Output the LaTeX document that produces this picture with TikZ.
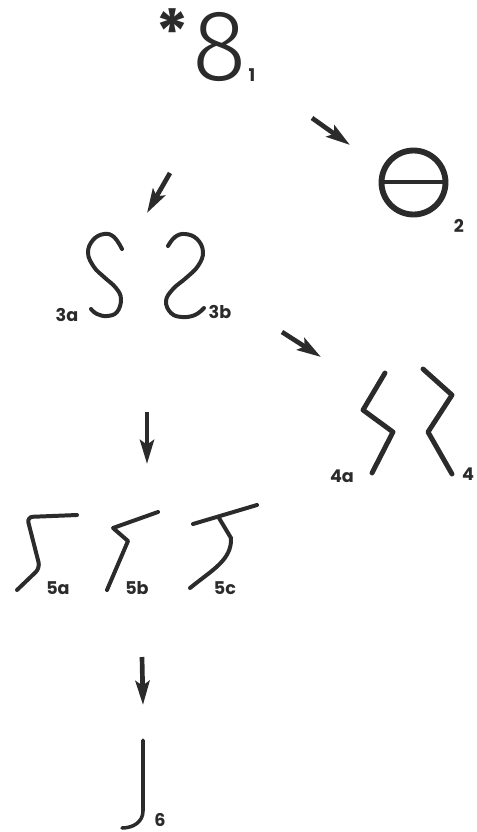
\documentclass[tikz,border=0pt]{standalone}
\usepackage{fontspec}
\setmainfont{Poppins}
\newfontfamily\signfont{Fira Sans Light}
\usetikzlibrary{arrows.meta}
\definecolor{ink}{HTML}{2B2B2B}

\begin{document}
\begin{tikzpicture}[
		x=0.03cm, y=-0.03cm,
		glyph/.style={draw=ink, line width=4.2pt, line cap=round, line join=round},
		thinglyph/.style={glyph, line width=3.4pt},
		arrowline/.style={draw=ink, line width=4pt,
			-{Stealth[length=0.72cm, width=0.42cm, inset=0.14cm]}},
		lbl/.style={text=ink, inner sep=0pt, font=\fontsize{15}{15}\selectfont\bfseries}
		]
		\useasboundingbox (0,0) rectangle (477,832);
		
		% Stage 1
		\node[text=ink, inner sep=0pt, anchor=north, font=\fontsize{54}{54}\selectfont\bfseries] (star) at (172,8) {*};
		\node[text=ink, inner sep=0pt, font=\signfont\fontsize{86}{86}\selectfont] (eight) at (219.5,47) {8};
		\node[lbl] (l1) at (252,75) {1};
		
		% Stage 2
		\draw[glyph, line width=5pt] (413.5,182.5) circle (32);
		\draw[glyph] (382,182) -- (445,182);
		\node[lbl] (l2) at (459,226) {2};
		
		% Stage 3
		\draw[thinglyph] plot[smooth, tension=0.7] coordinates {(122,249) (114,237) (104,234) (93,240) (88,253) (94,267) (104,277) (116,288) (121,299) (117,312) (107,316) (97,314) (91,309)};
		\draw[thinglyph] plot[smooth, tension=0.7] coordinates {(168,246) (175,237) (185,234) (197,239) (203,252) (198,266) (186,278) (173,289) (166,301) (171,313) (182,317) (195,315) (204,308)};
		\node[lbl] (l3a) at (67,315) {3a};
		\node[lbl] (l3b) at (220,312) {3b};
		
		% Stage 4
		\draw[glyph] (385,373) -- (363,410) -- (393,432) -- (372,473);
		\draw[glyph] (423,369) -- (452,395) -- (428,432) -- (452,474);
		\node[lbl] (l4a) at (342,476) {4a};
		\node[lbl] (l4b) at (468,474) {4};
		
		% Stage 5
		\draw[thinglyph, rounded corners=5pt] (77,515) -- (27,517) -- (40,568) -- (17,590);
		\draw[thinglyph] (158,512) -- (113,528) -- (128,541) -- (107,590);
		\draw[thinglyph] (193,524) -- (257,505);
		\draw[thinglyph] (219,518) -- (231,538) .. controls (232,560) and (212,570) .. (190,588);
		\node[lbl] (l5a) at (58,588) {5a};
		\node[lbl] (l5b) at (137,588) {5b};
		\node[lbl] (l5c) at (225,588) {5c};
		
		% Stage 6
		\draw[glyph, line width=3pt] (143,740) -- (143,811) .. controls (143,822) and (133,828) .. (122,828);
		\node[lbl] (l6) at (160,820) {6};
		
		% Arrows
		\coordinate (a1s) at (312,118);
		\coordinate (a1e) at (350,145);
		\coordinate (a2s) at (170,173);
		\coordinate (a2e) at (147,213);
		\coordinate (a3s) at (282,332);
		\coordinate (a3e) at (321,357);
		\coordinate (a4s) at (147,412);
		\coordinate (a4e) at (147,464);
		\coordinate (a5s) at (142,657);
		\coordinate (a5e) at (143,705);
		\draw[arrowline] (a1s) -- (a1e);
		\draw[arrowline] (a2s) -- (a2e);
		\draw[arrowline] (a3s) -- (a3e);
		\draw[arrowline] (a4s) -- (a4e);
		\draw[arrowline] (a5s) -- (a5e);
		
\end{tikzpicture}
\end{document}
